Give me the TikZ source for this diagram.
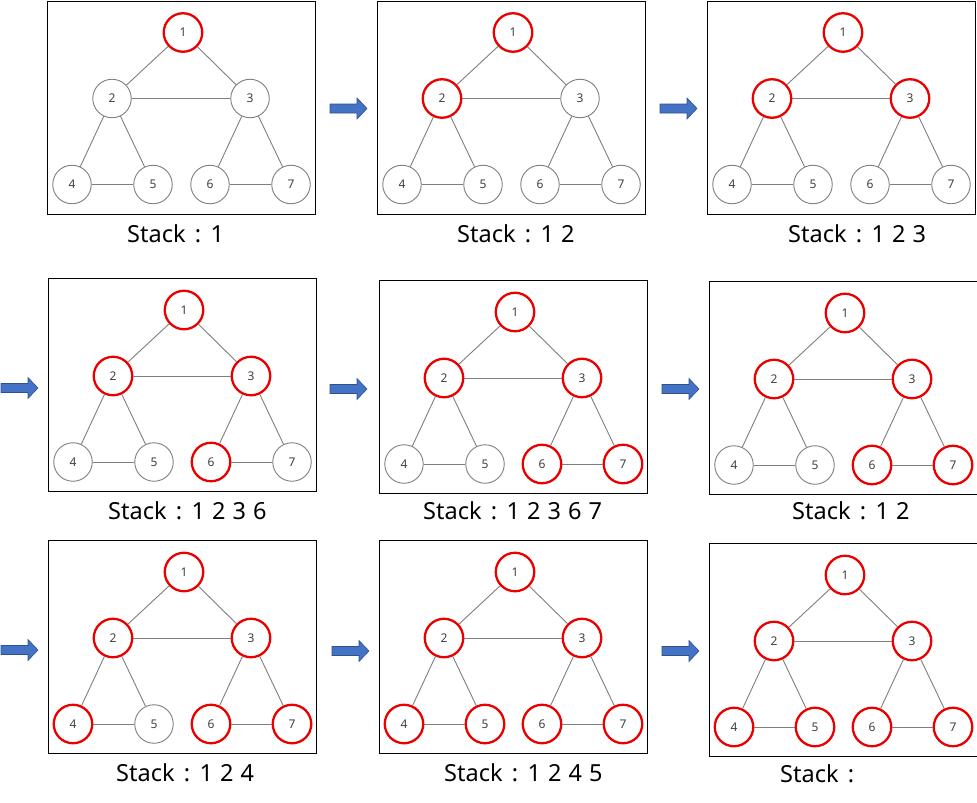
\documentclass[tikz,border=0pt]{standalone}
\usepackage{fontspec}
\setmainfont{Noto Sans}
\definecolor{edgegray}{RGB}{127,127,127}
\definecolor{nodered}{RGB}{235,0,0}
\definecolor{txtgray}{RGB}{64,64,64}
\definecolor{arrowfill}{RGB}{68,114,196}
\definecolor{arrowline}{RGB}{47,82,143}
\tikzset{
  vtx/.style={circle, draw=edgegray, line width=0.9pt, minimum size=38.5pt, inner sep=0pt,
    text=txtgray, font=\fontsize{12}{12}\selectfont, fill=white},
  redc/.style={draw=nodered, line width=2.3pt},
  c1/.style={}, c2/.style={}, c3/.style={}, c4/.style={}, c5/.style={}, c6/.style={}, c7/.style={},
  edge/.style={draw=edgegray, line width=0.9pt},
  panelbox/.style={draw=black, line width=1pt, inner sep=0pt, anchor=north west},
  stacklabel/.style={anchor=base west, font=\fontsize{23.5}{24}\selectfont, inner sep=0pt},
  bluearrow/.style={fill=arrowfill, draw=arrowline, line width=0.6pt}
}
\newcommand\gapA{\hspace{0.4em}}
\newcommand\gapB{\hspace{0.3em}}
% #1 id, #2 L, #3 T, #4 red styles, #5 label x, #6 label text, #7 label baseline (relative), #8 width
\newcommand\drawpanel[8]{%
\begin{scope}[shift={(#2,#3)}, #4]
  \node[panelbox, minimum width=#8pt, minimum height=213pt] (#1box) at (0,0) {};
  \node[vtx,c1] (#1n1) at (136,32) {1};
  \node[vtx,c2] (#1n2) at (65,98) {2};
  \node[vtx,c3] (#1n3) at (203,98) {3};
  \node[vtx,c4] (#1n4) at (25,184) {4};
  \node[vtx,c5] (#1n5) at (106,184) {5};
  \node[vtx,c6] (#1n6) at (163,184) {6};
  \node[vtx,c7] (#1n7) at (244,184) {7};
  \draw[edge] (#1n1) -- (#1n2);
  \draw[edge] (#1n1) -- (#1n3);
  \draw[edge] (#1n2) -- (#1n3);
  \draw[edge] (#1n2) -- (#1n4);
  \draw[edge] (#1n2) -- (#1n5);
  \draw[edge] (#1n3) -- (#1n6);
  \draw[edge] (#1n3) -- (#1n7);
  \draw[edge] (#1n4) -- (#1n5);
  \draw[edge] (#1n6) -- (#1n7);
  \node[stacklabel] (#1lab) at (#5,#7) {#6};
\end{scope}}
\newcommand\blockarrow[2]{%
\begin{scope}[shift={(#1,#2)}]
  \draw[bluearrow] (0,-4.5) -- (27,-4.5) -- (27,-10.5) -- (37,0) -- (27,10.5) -- (27,4.5) -- (0,4.5) -- cycle;
\end{scope}}
\begin{document}
\begin{tikzpicture}[x=1pt,y=-1pt]
\useasboundingbox (0,0) rectangle (977,803);
\fill[white] (0,0) rectangle (977,803);
\def\RR{redc}
\drawpanel{a}{47}{0.5}{c1/.style=\RR}{80}{Stack\gapA:\gapA1}{242}{268}
\drawpanel{b}{377}{0.5}{c1/.style=\RR,c2/.style=\RR}{80}{Stack\gapA:\gapA1\gapB2}{242}{268}
\drawpanel{c}{707}{0.5}{c1/.style=\RR,c2/.style=\RR,c3/.style=\RR}{81}{Stack\gapA:\gapA1\gapB2\gapB3}{242}{268}
\drawpanel{d}{48}{278}{c1/.style=\RR,c2/.style=\RR,c3/.style=\RR,c6/.style=\RR}{60}{Stack\gapA:\gapA1\gapB2\gapB3\gapB6}{241}{268}
\drawpanel{e}{379}{280}{c1/.style=\RR,c2/.style=\RR,c3/.style=\RR,c6/.style=\RR,c7/.style=\RR}{44}{Stack\gapA:\gapA1\gapB2\gapB3\gapB6\gapB7}{239}{268}
\drawpanel{f}{709}{281}{c1/.style=\RR,c2/.style=\RR,c3/.style=\RR,c6/.style=\RR,c7/.style=\RR}{83}{Stack\gapA:\gapA1\gapB2}{238}{267.5}
\drawpanel{g}{48}{540}{c1/.style=\RR,c2/.style=\RR,c3/.style=\RR,c4/.style=\RR,c6/.style=\RR,c7/.style=\RR}{68}{Stack\gapA:\gapA1\gapB2\gapB4}{241}{268}
\drawpanel{h}{379}{540}{c1/.style=\RR,c2/.style=\RR,c3/.style=\RR,c4/.style=\RR,c5/.style=\RR,c6/.style=\RR,c7/.style=\RR}{65}{Stack\gapA:\gapA1\gapB2\gapB4\gapB5}{241}{268}
\drawpanel{i}{709}{543}{c1/.style=\RR,c2/.style=\RR,c3/.style=\RR,c4/.style=\RR,c5/.style=\RR,c6/.style=\RR,c7/.style=\RR}{71}{Stack\gapA:}{239}{267.5}
\blockarrow{330}{108.5}
\blockarrow{660}{108.5}
\blockarrow{1}{388}
\blockarrow{330}{389}
\blockarrow{662}{389}
\blockarrow{1}{650}
\blockarrow{332}{651}
\blockarrow{662}{651}
\end{tikzpicture}
\end{document}
